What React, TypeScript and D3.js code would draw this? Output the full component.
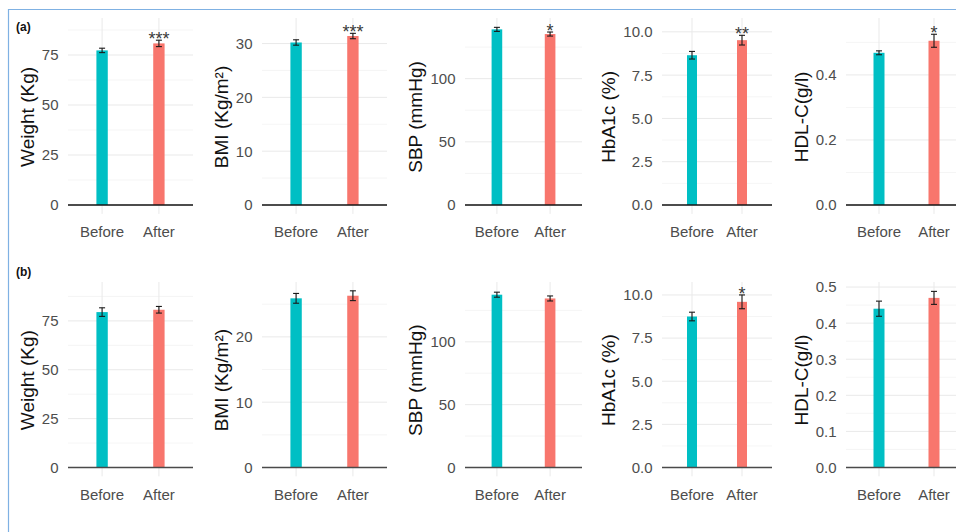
import * as d3 from "d3";
import React from "react";

// categories & measures
const groups = ["Before", "After"];
const measures = ["Weight (Kg)", "BMI (Kg/m²)", "SBP (mmHg)", "HbA1c (%)", "HDL-C(g/l)"];
const rowLabels = ["(a)", "(b)"];

// row (a)
const beforeA = [77.3, 30.2, 139, 8.65, 0.468];
const afterA = [80.8, 31.4, 135.3, 9.52, 0.505];
const beforeErrA = [1.1, 0.5, 1.6, 0.22, 0.006];
const afterErrA = [1.6, 0.5, 1.6, 0.28, 0.02];
const starsA = ["***", "***", "*", "**", "*"];
const yMaxA = [93.5, 34.75, 148, 10.8, 0.575];
const ticksA = [
  [0, 25, 50, 75],
  [0, 10, 20, 30],
  [0, 50, 100],
  [0, 2.5, 5, 7.5, 10],
  [0, 0.2, 0.4],
];

// row (b)
const beforeB = [79.5, 25.9, 137.5, 8.75, 0.44];
const afterB = [80.7, 26.3, 134.5, 9.6, 0.47];
const beforeErrB = [2.2, 0.75, 2.0, 0.25, 0.021];
const afterErrB = [1.7, 0.75, 2.0, 0.4, 0.018];
const starsB = ["", "", "", "*", ""];
const yMaxB = [94.9, 28.4, 147.6, 10.75, 0.514];
const ticksB = [
  [0, 25, 50, 75],
  [0, 10, 20],
  [0, 50, 100],
  [0, 2.5, 5, 7.5, 10],
  [0, 0.1, 0.2, 0.3, 0.4, 0.5],
];

const tickFormats = ["d", "d", "d", ".1f", ".1f"];

// layout
const panelX = [
  [68, 193],
  [262, 387],
  [465, 582],
  [662, 772],
  [846, 967],
];
const rows = [
  { top: 18, zero: 205, axis: "#151515", labelY: 31 },
  { top: 282, zero: 467.5, axis: "#4a4a4a", labelY: 276 },
];

const FONT = "'Liberation Sans', Arial, Helvetica, sans-serif";
const colors = { Before: "#00BFC4", After: "#F8766D" };

let ctx = null;
function textWidth(text, size) {
  if (!ctx) ctx = document.createElement("canvas").getContext("2d");
  ctx.font = `${size}px ${FONT}`;
  return ctx.measureText(text).width;
}

function Panel({ x0, x1, top, zero, yMax, ticks, fmt, title, means, errs, stars, axisColor }) {
  const x = d3.scalePoint().domain(groups).range([x0, x1]).padding(0.6);
  const y = d3.scaleLinear().domain([0, yMax]).range([zero, top]);
  const bottom = y((-yMax * 0.05) / 1.05);
  const barW = x.step() * 0.2;
  const format = d3.format(fmt);

  const minors = ticks.slice(1).map((t, i) => (t + ticks[i]) / 2);
  const stepT = ticks[1] - ticks[0];
  const lastMinor = ticks[ticks.length - 1] + stepT / 2;
  if (lastMinor <= yMax) minors.push(lastMinor);

  const labelW = d3.max(ticks, (t) => textWidth(format(t), 15));
  const titleX = x0 - 9.5 - labelW - 8;
  const titleY = (top + bottom) / 2 + 1;

  return (
    <g>
      {minors.map((t) => (
        <line key={"m" + t} x1={x0} x2={x1} y1={y(t)} y2={y(t)} stroke="#f0f0f0" strokeWidth={0.7} />
      ))}
      {ticks.map((t) => (
        <line key={"g" + t} x1={x0} x2={x1} y1={y(t)} y2={y(t)} stroke="#e9e9e9" strokeWidth={1} />
      ))}
      {groups.map((g) => (
        <line key={"v" + g} x1={x(g)} x2={x(g)} y1={top} y2={bottom} stroke="#e9e9e9" strokeWidth={1} />
      ))}
      {groups.map((g, i) => (
        <rect
          key={"b" + g}
          x={x(g) - barW / 2}
          width={barW}
          y={y(means[i])}
          height={y(0) - y(means[i])}
          fill={colors[g]}
        />
      ))}
      <line x1={x0} x2={x1} y1={y(0)} y2={y(0)} stroke={axisColor} strokeWidth={1.4} />
      {groups.map((g, i) => {
        const cx = x(g);
        const lo = y(means[i] - errs[i]);
        const hi = y(means[i] + errs[i]);
        return (
          <g key={"e" + g} stroke="#1a1a1a" strokeWidth={1.1}>
            <line x1={cx} x2={cx} y1={lo} y2={hi} />
            <line x1={cx - 3} x2={cx + 3} y1={lo} y2={lo} />
            <line x1={cx - 3} x2={cx + 3} y1={hi} y2={hi} />
          </g>
        );
      })}
      {stars && (
        <text
          x={x("After")}
          y={y(means[1] + errs[1]) + 5}
          textAnchor="middle"
          fontSize={18}
          fill="#3a3a3a"
          fontFamily={FONT}
        >
          {stars}
        </text>
      )}
      {ticks.map((t) => (
        <text
          key={"t" + t}
          x={x0 - 9.5}
          y={y(t)}
          dy="0.36em"
          textAnchor="end"
          fontSize={15}
          fill="#4d4d4d"
          fontFamily={FONT}
        >
          {format(t)}
        </text>
      ))}
      {groups.map((g) => (
        <text
          key={"x" + g}
          x={x(g)}
          y={zero + 32}
          textAnchor="middle"
          fontSize={15}
          fill="#4d4d4d"
          fontFamily={FONT}
        >
          {g}
        </text>
      ))}
      <text
        transform={`translate(${titleX},${titleY}) rotate(-90)`}
        textAnchor="middle"
        fontSize={19}
        fill="#111"
        fontFamily={FONT}
      >
        {title}
      </text>
    </g>
  );
}

export default function App() {
  const rowData = [
    { before: beforeA, after: afterA, bErr: beforeErrA, aErr: afterErrA, stars: starsA, yMax: yMaxA, ticks: ticksA },
    { before: beforeB, after: afterB, bErr: beforeErrB, aErr: afterErrB, stars: starsB, yMax: yMaxB, ticks: ticksB },
  ];

  return (
    <svg
      width={956}
      height={532}
      style={{ position: "absolute", left: 0, top: 0, background: "#fff" }}
    >
      <rect x={0} y={0} width={956} height={532} fill="#fff" />
      <path d="M8.5,545 V9.5 H960" fill="none" stroke="#7fb1e3" strokeWidth={1.2} />
      {rows.map((row, r) => (
        <g key={r}>
          <text x={16} y={row.labelY} fontSize={12} fontWeight="bold" fill="#111" fontFamily={FONT}>
            {rowLabels[r]}
          </text>
          {measures.map((m, i) => (
            <Panel
              key={m}
              x0={panelX[i][0]}
              x1={panelX[i][1]}
              top={row.top}
              zero={row.zero}
              yMax={rowData[r].yMax[i]}
              ticks={rowData[r].ticks[i]}
              fmt={tickFormats[i]}
              title={m}
              means={[rowData[r].before[i], rowData[r].after[i]]}
              errs={[rowData[r].bErr[i], rowData[r].aErr[i]]}
              stars={rowData[r].stars[i]}
              axisColor={row.axis}
            />
          ))}
        </g>
      ))}
    </svg>
  );
}
